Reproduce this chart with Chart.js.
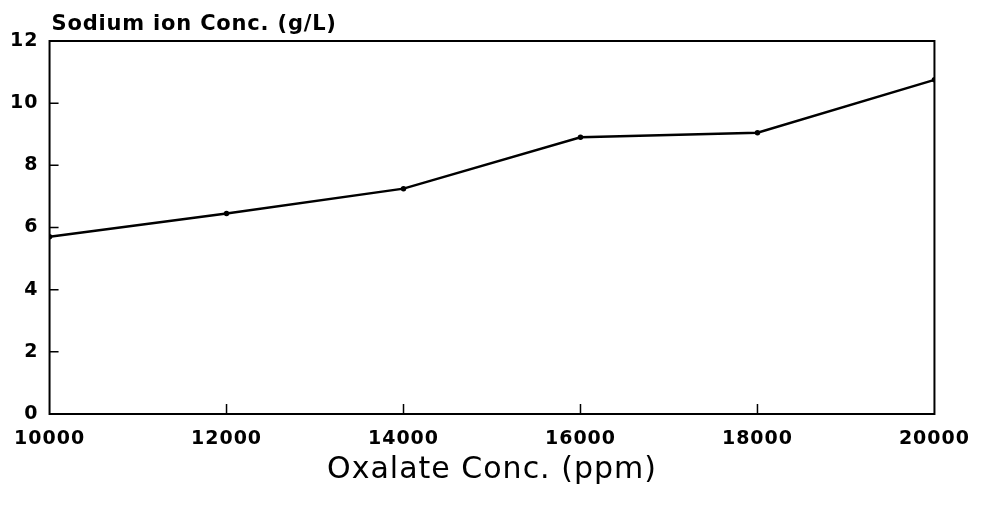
<!DOCTYPE html>
<html>
<head>
<meta charset="utf-8">
<script src="https://cdn.jsdelivr.net/npm/chart.js@4"></script>
<style>
  html, body { margin: 0; padding: 0; background: #fff; }
  #wrap { width: 984px; height: 506px; }
</style>
</head>
<body>
<div id="wrap"><canvas id="myChart"></canvas></div>
<script>
// data
const oxalateConc = [10000, 12000, 14000, 16000, 18000, 20000];
const sodiumConc = [5.7, 6.45, 7.25, 8.9, 9.05, 10.75];
const xTickValues = [12000, 14000, 16000, 18000];
const yTickValues = [2, 4, 6, 8, 10];
const yTitle = 'Sodium ion Conc. (g/L)';
const xTitle = 'Oxalate Conc. (ppm)';

const fontName = "'DejaVu Sans', sans-serif";

// letter spacing, box, inward ticks and the top-left axis label
const framePlugin = {
  id: 'frame',
  beforeUpdate(chart) {
    chart.ctx.letterSpacing = '1px';
  },
  beforeDraw(chart) {
    chart.ctx.letterSpacing = '1px';
  },
  afterDraw(chart) {
    const ctx = chart.ctx;
    const area = chart.chartArea;
    const xs = chart.scales.x;
    const ys = chart.scales.y;
    ctx.save();
    ctx.strokeStyle = '#000';
    ctx.lineWidth = 2;
    ctx.strokeRect(area.left, area.top, area.right - area.left, area.bottom - area.top);

    ctx.lineWidth = 1.5;
    ctx.beginPath();
    yTickValues.forEach(v => {
      const py = ys.getPixelForValue(v);
      ctx.moveTo(area.left, py);
      ctx.lineTo(area.left + 9, py);
    });
    xTickValues.forEach(v => {
      const px = xs.getPixelForValue(v);
      ctx.moveTo(px, area.bottom);
      ctx.lineTo(px, area.bottom - 10);
    });
    ctx.stroke();

    ctx.fillStyle = '#000';
    ctx.letterSpacing = '0.8px';
    ctx.font = 'bold 21px ' + fontName;
    ctx.textAlign = 'left';
    ctx.textBaseline = 'alphabetic';
    ctx.fillText(yTitle, area.left + 2, area.top - 11);
    ctx.restore();
  }
};

const ctx = document.getElementById('myChart').getContext('2d');
const myChart = new Chart(ctx, {
  type: 'line',
  data: {
    datasets: [{
      label: 'Sodium ion',
      data: oxalateConc.map((x, i) => ({ x: x, y: sodiumConc[i] })),
      borderColor: '#000',
      backgroundColor: '#000',
      borderWidth: 2.5,
      pointRadius: 1.5,
      fill: false,
      tension: 0
    }]
  },
  options: {
    responsive: true,
    maintainAspectRatio: false,
    animation: false,
    layout: { padding: { left: 0, right: 47, top: 41, bottom: 0 } },
    plugins: {
      legend: { display: false },
      tooltip: { enabled: false }
    },
    scales: {
      x: {
        type: 'linear',
        min: 10000,
        max: 20000,
        border: { display: false },
        grid: { display: false, drawTicks: false },
        ticks: {
          stepSize: 2000,
          padding: 14,
          color: '#000',
          font: { family: fontName, size: 19, weight: 'bold' },
          callback: v => String(v)
        },
        title: {
          display: true,
          text: xTitle,
          color: '#000',
          font: { family: fontName, size: 30 },
          padding: { top: 0, bottom: 18 }
        },
        afterFit(scale) { scale.height = 92; }
      },
      y: {
        type: 'linear',
        min: 0,
        max: 12,
        border: { display: false },
        grid: { display: false, drawTicks: false },
        ticks: {
          stepSize: 2,
          padding: 11,
          color: '#000',
          font: { family: fontName, size: 19, weight: 'bold' }
        },
        afterFit(scale) { scale.width = 48; }
      }
    }
  },
  plugins: [framePlugin]
});
</script>
</body>
</html>
